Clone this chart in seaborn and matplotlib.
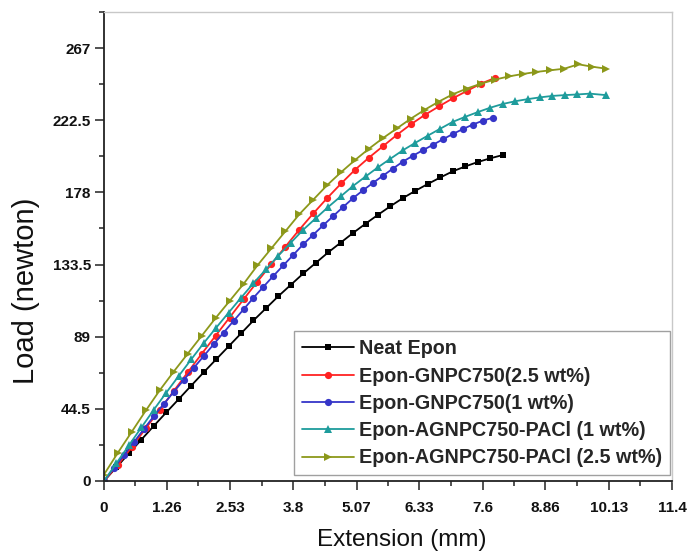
import numpy as np
import pandas as pd
import matplotlib
matplotlib.use("Agg")
import matplotlib.pyplot as plt
import seaborn as sns

# ---------------- data ----------------
neat_x = [0, 0.25, 0.5, 0.75, 1.0, 1.25, 1.5, 1.75, 2.0, 2.25, 2.5, 2.75, 3.0, 3.25, 3.5, 3.75,
          4.0, 4.25, 4.5, 4.75, 5.0, 5.25, 5.5, 5.75, 6.0, 6.25, 6.5, 6.75, 7.0, 7.25, 7.5, 7.75, 8.0]
neat_y = [0, 8.5, 17, 25.5, 34, 42.3, 50.5, 58.8, 67, 75, 83, 91, 99, 106.5, 114, 121,
          128, 134.5, 141, 147, 153, 158.7, 164.2, 169.5, 174.5, 179, 183.2, 187.2, 191, 194, 196.7, 199, 201]

gn25_x = [0, 0.28, 0.56, 0.84, 1.12, 1.40, 1.68, 1.96, 2.24, 2.52, 2.80, 3.08, 3.36, 3.64, 3.92,
          4.20, 4.48, 4.76, 5.04, 5.32, 5.60, 5.88, 6.16, 6.44, 6.72, 7.00, 7.28, 7.56, 7.84]
gn25_y = [0, 10, 21, 32.5, 44, 55.5, 67, 78.4, 89.6, 100.8, 112, 123, 133.8, 144.5, 155,
          165, 174.5, 183.5, 192, 199.5, 206.5, 213.5, 220, 225.8, 231, 236, 240.5, 245, 248.5]

gn1_x = [0, 0.2, 0.4, 0.6, 0.8, 1.0, 1.2, 1.4, 1.6, 1.8, 2.0, 2.2, 2.4, 2.6, 2.8, 3.0, 3.2, 3.4,
         3.6, 3.8, 4.0, 4.2, 4.4, 4.6, 4.8, 5.0, 5.2, 5.4, 5.6, 5.8, 6.0, 6.2, 6.4, 6.6, 6.8, 7.0,
         7.2, 7.4, 7.6, 7.8]
gn1_y = [0, 8, 16, 24, 32, 40, 47.5, 55, 62.3, 69.7, 77, 84.3, 91.5, 98.7, 105.8, 113, 119.8, 126.5,
         133, 139.5, 146, 151.9, 157.7, 163.4, 169, 174.5, 179.3, 183.9, 188.3, 192.7, 197, 200.6, 204,
         207.3, 210.7, 214, 217, 219.8, 222.2, 224]

ag1_x = [0, 0.25, 0.5, 0.75, 1.0, 1.25, 1.5, 1.75, 2.0, 2.25, 2.5, 2.75, 3.0, 3.25, 3.5, 3.75,
         4.0, 4.25, 4.5, 4.75, 5.0, 5.25, 5.5, 5.75, 6.0, 6.25, 6.5, 6.75, 7.0, 7.25, 7.5, 7.75,
         8.0, 8.25, 8.5, 8.75, 9.0, 9.25, 9.5, 9.75, 10.07]
ag1_y = [0, 11, 22, 33, 44, 54.5, 64.8, 75, 85, 94.5, 103.8, 113, 122, 130.5, 139, 147,
         155, 162, 169, 175.5, 182, 187.8, 193.5, 198.8, 204, 208.6, 213, 217.3, 221.5, 224.6, 227.5, 230.2,
         232.5, 234.2, 235.5, 236.6, 237.5, 238, 238.4, 238.9, 238]

ag25_x = [0, 0.28, 0.56, 0.84, 1.12, 1.40, 1.68, 1.96, 2.24, 2.52, 2.80, 3.08, 3.36, 3.64, 3.92,
          4.20, 4.48, 4.76, 5.04, 5.32, 5.60, 5.88, 6.16, 6.44, 6.72, 7.00, 7.28, 7.56, 7.84, 8.12,
          8.40, 8.68, 8.96, 9.24, 9.52, 9.80, 10.08]
ag25_y = [4, 17.5, 30.5, 43.5, 56, 67.5, 78.5, 89.5, 100.5, 111, 121.5, 133, 143.5, 154, 164.5,
          173.5, 182.5, 190.5, 198, 205, 211.5, 217.5, 223.5, 229, 234, 238.5, 242, 245, 247.5, 249.5,
          251, 252.3, 253.3, 254.3, 257, 255.5, 254.3]

series_names = ["Neat Epon", "Epon-GNPC750(2.5 wt%)", "Epon-GNPC750(1 wt%)",
                "Epon-AGNPC750-PACl (1 wt%)", "Epon-AGNPC750-PACl (2.5 wt%)"]
series_x = [neat_x, gn25_x, gn1_x, ag1_x, ag25_x]
series_y = [neat_y, gn25_y, gn1_y, ag1_y, ag25_y]
colors = ["#000000", "#ff2222", "#3535c8", "#1e9c9c", "#8c981a"]
marker_list = ["s", "o", "o", "^", ">"]
marker_sizes = [4.0, 5.2, 5.2, 5.2, 5.2]

x_ticks = [0, 1.26, 2.53, 3.8, 5.07, 6.33, 7.6, 8.86, 10.13, 11.4]
x_tick_labels = ["0", "1.26", "2.53", "3.8", "5.07", "6.33", "7.6", "8.86", "10.13", "11.4"]
y_ticks = [0, 44.5, 89, 133.5, 178, 222.5, 267]
y_tick_labels = ["0", "44.5", "89", "133.5", "178", "222.5", "267"]

# ---------------- build long table ----------------
frames = []
for name, xs, ys in zip(series_names, series_x, series_y):
    frames.append(pd.DataFrame({"Extension": xs, "Load": ys, "series": name}))
df = pd.concat(frames, ignore_index=True)

sns.set_theme(style="ticks")
plt.rcParams["font.family"] = ["Liberation Sans", "DejaVu Sans"]

fig = plt.figure(figsize=(6.87, 5.55), dpi=100)
ax = fig.add_axes([104 / 687, 1 - 481 / 555, (672 - 104) / 687, (481 - 12) / 555])

sns.lineplot(data=df, x="Extension", y="Load", hue="series", style="series",
             hue_order=series_names, style_order=series_names,
             palette=dict(zip(series_names, colors)),
             markers=dict(zip(series_names, marker_list)),
             dashes=False, estimator=None, sort=False,
             linewidth=1.3, markersize=5.2, markeredgewidth=0,
             ax=ax, legend=True)

# per-series marker size (black squares are smaller in the reference)
for line, ms in zip(ax.lines[:len(series_names)], marker_sizes):
    line.set_markersize(ms)

ax.set_xlim(0, 11.4)
ax.set_ylim(0, 289.25)
ax.set_xticks(x_ticks)
ax.set_xticklabels(x_tick_labels)
ax.set_yticks(y_ticks)
ax.set_yticklabels(y_tick_labels)
ax.set_xticks([(a + b) / 2 for a, b in zip(x_ticks[:-1], x_ticks[1:])], minor=True)
ax.set_yticks([(a + b) / 2 for a, b in zip(y_ticks[:-1], y_ticks[1:])] + [267 + 22.25], minor=True)

ax.tick_params(axis="both", which="major", direction="out", length=6.5, width=1.1,
               color="#222222", labelsize=11, pad=3)
ax.tick_params(axis="both", which="minor", direction="out", length=3.5, width=1.1, color="#222222")
ax.tick_params(axis="x", which="major", pad=8)
for lab in ax.get_xticklabels() + ax.get_yticklabels():
    lab.set_fontweight("bold")
    lab.set_color("#111111")

for s in ["left", "bottom"]:
    ax.spines[s].set_color("#222222")
    ax.spines[s].set_linewidth(1.3)
for s in ["top", "right"]:
    ax.spines[s].set_color("#c8c8c8")
    ax.spines[s].set_linewidth(1.0)

ax.set_xlabel("Extension (mm)", fontsize=17.5, color="#111111")
ax.set_ylabel("Load (newton)", fontsize=21, color="#111111")
ax.xaxis.set_label_coords(0.525, -0.103)
ax.yaxis.set_label_coords(-0.113, 0.405)

handles, labels = ax.get_legend_handles_labels()
for h, ms in zip(handles, marker_sizes):
    h.set_markersize(ms)
    h.set_linewidth(1.3)
leg = ax.legend(handles, labels, loc="lower right", bbox_to_anchor=(0.9965, 0.012),
                borderaxespad=0, frameon=True, fancybox=False, edgecolor="#888888",
                prop={"weight": "bold", "size": 14.2}, handlelength=2.65, handletextpad=0.25,
                labelspacing=0.42, borderpad=0.4, numpoints=1)
leg.get_frame().set_linewidth(1.0)

fig.savefig("out.png", dpi=100, facecolor="white")
